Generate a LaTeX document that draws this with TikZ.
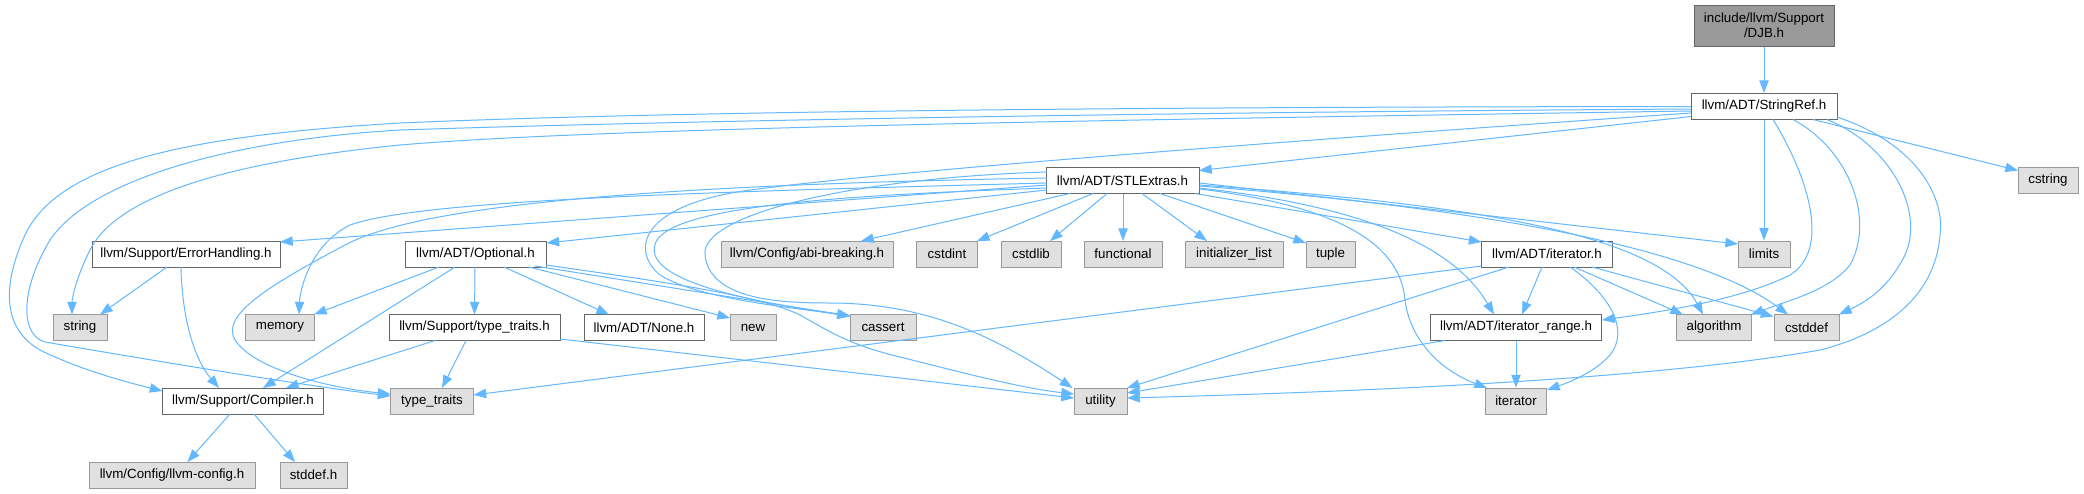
\documentclass[tikz,border=0pt]{standalone}
\usepackage{fontspec}
\setmainfont{Liberation Sans}
\usetikzlibrary{arrows.meta,calc}
\definecolor{edgec}{HTML}{63B8FF}
\definecolor{bordd}{HTML}{666666}
\definecolor{bordl}{HTML}{999999}
\definecolor{fillx}{HTML}{E0E0E0}
\definecolor{fillr}{HTML}{999999}
\newcommand{\gnode}[6]{\node[#1, minimum width=#5*0.75pt] (#2) at (#3,#4) {#6};}
\begin{document}
\begin{tikzpicture}[x=0.75pt,y=-0.75pt,
  base/.style={draw, rectangle, inner sep=0pt, minimum height=19.5pt,
    font=\fontsize{10pt}{11.3pt}\selectfont, line width=0.75pt, anchor=center},
  inbox/.style={base, draw=bordd, fill=white},
  exbox/.style={base, draw=bordl, fill=fillx},
  rootbox/.style={base, draw=bordd, fill=fillr, minimum height=30.75pt, align=center},
  dep/.style={draw=edgec, line width=0.75pt, -{Triangle[length=9.5pt,width=7pt]}},
]
\fill[white] (0,0) rectangle (2084,493);
\useasboundingbox (0,0) rectangle (2084,493);

% row 0-2
\gnode{rootbox}{djb}{1764}{25.5}{140}{include/llvm/Support\\/DJB.h}
\gnode{inbox}{sref}{1764}{106.5}{146}{llvm/ADT/StringRef.h}
\gnode{inbox}{stl}{1122.5}{180.5}{153}{llvm/ADT/STLExtras.h}
\gnode{exbox}{cstring}{2048}{180.5}{60}{cstring}
% row 3
\gnode{inbox}{errh}{186}{254}{188}{llvm/Support/ErrorHandling.h}
\gnode{inbox}{opt}{475.5}{254}{141}{llvm/ADT/Optional.h}
\gnode{exbox}{abi}{807}{254}{172}{llvm/Config/abi-breaking.h}
\gnode{exbox}{cstdint}{947}{254}{61}{cstdint}
\gnode{exbox}{cstdlib}{1031}{254}{60}{cstdlib}
\gnode{exbox}{functional}{1123}{254}{78}{functional}
\gnode{exbox}{initlist}{1234}{254}{98}{initializer\_list}
\gnode{exbox}{tuple}{1330.5}{254}{49}{tuple}
\gnode{inbox}{iterh}{1547}{254}{131}{llvm/ADT/iterator.h}
\gnode{exbox}{limits}{1764}{254}{52}{limits}
% row 4
\gnode{exbox}{string}{80}{327.5}{54}{string}
\gnode{exbox}{memory}{280}{327.5}{69}{memory}
\gnode{inbox}{ttraitsh}{474.5}{327.5}{171}{llvm/Support/type\_traits.h}
\gnode{inbox}{none}{644}{327.5}{120}{llvm/ADT/None.h}
\gnode{exbox}{new}{753}{327.5}{46}{new}
\gnode{exbox}{cassert}{883}{327.5}{66}{cassert}
\gnode{inbox}{iterrange}{1516}{327.5}{171}{llvm/ADT/iterator\_range.h}
\gnode{exbox}{algorithm}{1714}{327.5}{75}{algorithm}
\gnode{exbox}{cstddef}{1806.5}{327.5}{65}{cstddef}
% row 5
\gnode{inbox}{compiler}{243}{401}{161}{llvm/Support/Compiler.h}
\gnode{exbox}{ttraits}{432}{401}{83}{type\_traits}
\gnode{exbox}{utility}{1100.5}{401}{53}{utility}
\gnode{exbox}{iterator}{1516}{401}{61}{iterator}
% row 6
\gnode{exbox}{llvmconfig}{172}{475}{166}{llvm/Config/llvm-config.h}
\gnode{exbox}{stddef}{313.5}{475}{67}{stddef.h}

% DJB
\draw[dep] (djb.south) -- (sref.north);
% StringRef
\draw[dep] ($(sref)+(-73,10)$) -- ($(stl)+(76.5,-10)$);
\draw[dep] ($(sref)+(49,13)$) -- ($(cstring)+(-30,-10)$);
\draw[dep] (sref.south) -- (limits.north);
\draw[dep] ($(sref)+(9,13)$) .. controls (1810,180) and (1830,250) .. (1790,275) .. controls (1740,300) and (1660,312) .. ($(iterrange)+(86,-7.5)$);
\draw[dep] ($(sref)+(29,13)$) .. controls (1850,150) and (1875,220) .. (1850,265) .. controls (1830,290) and (1790,300) .. ($(algorithm)+(37,-13)$);
\draw[dep] ($(sref)+(63,13)$) .. controls (1890,145) and (1925,210) .. (1905,255) .. controls (1890,285) and (1870,300) .. ($(cstddef)+(32.5,-13)$);
\draw[dep] ($(sref)+(73,10.5)$) .. controls (1920,145) and (1945,200) .. (1940,235) .. controls (1935,300) and (1880,335) .. (1820,350) .. controls (1650,380) and (1350,392) .. ($(utility)+(26.5,-3)$);
\draw[dep] ($(sref)+(-73,0)$) .. controls (1200,107) and (700,110) .. (400,123) .. controls (200,135) and (60,160) .. (25,235) .. controls (0,290) and (5,330) .. (40,350) .. controls (80,370) and (130,383) .. ($(compiler)+(-80.5,-10)$);
\draw[dep] ($(sref)+(-73,2.5)$) .. controls (1200,112) and (700,120) .. (400,130) .. controls (230,140) and (90,180) .. (50,240) .. controls (20,290) and (20,335) .. (45,342) .. controls (150,360) and (300,385) .. ($(ttraits)+(-41.5,-5)$);
\draw[dep] ($(sref)+(-73,4.5)$) .. controls (1100,120) and (600,128) .. (400,145) .. controls (250,160) and (120,190) .. (90,250) .. controls (75,280) and (72,300) .. ($(string)+(-8,-13)$);
\draw[dep] ($(sref)+(-73,6.5)$) .. controls (1300,140) and (900,170) .. (750,190) .. controls (640,205) and (630,250) .. (660,275) .. controls (700,300) and (800,308) .. ($(cassert)+(-33,-11)$);
% STLExtras
\draw[dep] ($(stl)+(-75.5,9.5)$) -- ($(opt)+(71,-11)$);
\draw[dep] ($(stl)+(-75.5,4.5)$) -- ($(errh)+(94,-12)$);
\draw[dep] ($(stl)+(-75.5,2.5)$) .. controls (700,192) and (420,200) .. (350,225) .. controls (310,245) and (300,290) .. ($(memory)+(19,-13)$);
\draw[dep] ($(stl)+(-75.5,-2.5)$) .. controls (650,185) and (420,205) .. (345,245) .. controls (270,285) and (220,315) .. (235,340) .. controls (255,370) and (330,388) .. ($(ttraits)+(-41.5,-7)$);
\draw[dep] ($(stl)+(-75.5,7.5)$) .. controls (850,195) and (680,205) .. (657,240) .. controls (640,270) and (700,295) .. ($(cassert)+(-33,-12)$);
\draw[dep] ($(stl)+(-75.5,-8.5)$) .. controls (850,178) and (700,215) .. (705,255) .. controls (710,300) and (780,303) .. (830,303) .. controls (930,303) and (1000,340) .. ($(utility)+(-28,-13)$);
\draw[dep] ($(stl)+(-52.5,13)$) -- ($(abi)+(54,-13)$);
\draw[dep] ($(stl)+(-29.5,13)$) -- ($(cstdint)+(30,-13)$);
\draw[dep] ($(stl)+(-15.5,13)$) -- ($(cstdlib)+(19,-13)$);
\draw[dep] ($(stl)+(0.5,13)$) -- ($(functional)+(0,-13)$);
\draw[dep] ($(stl)+(19.5,13)$) -- ($(initlist)+(-27,-13)$);
\draw[dep] ($(stl)+(37.5,13)$) -- ($(tuple)+(-24.5,-11)$);
\draw[dep] ($(stl)+(72.5,13)$) -- ($(iterh)+(-65.5,-12)$);
\draw[dep] ($(stl)+(77,2.5)$) -- ($(limits)+(-26,-10)$);
\draw[dep] ($(stl)+(77,4.5)$) .. controls (1480,205) and (1660,235) .. ($(algorithm)+(-11,-13)$);
\draw[dep] ($(stl)+(77,5.5)$) .. controls (1500,210) and (1700,250) .. ($(cstddef)+(-18.5,-13)$);
\draw[dep] ($(stl)+(77,7.5)$) .. controls (1350,205) and (1450,240) .. ($(iterrange)+(-22,-13)$);
\draw[dep] ($(stl)+(77,8.5)$) .. controls (1330,205) and (1400,240) .. (1405,300) .. controls (1410,340) and (1440,370) .. ($(iterator)+(-29,-13)$);
% Optional
\draw[dep] ($(opt)+(-36.5,13)$) -- ($(memory)+(34,-13)$);
\draw[dep] ($(opt)+(-20.5,13)$) -- ($(compiler)+(20,-13)$);
\draw[dep] ($(opt)+(-0.5,13)$) -- ($(ttraitsh)+(0,-13)$);
\draw[dep] ($(opt)+(28.5,13)$) -- ($(none)+(-35,-13)$);
\draw[dep] ($(opt)+(53.5,13)$) -- ($(new)+(-23,-9.5)$);
\draw[dep] ($(opt)+(59.5,12)$) -- ($(cassert)+(-33,-11.5)$);
\draw[dep] ($(opt)+(70.5,11)$) .. controls (650,280) and (760,295) .. (800,315) .. controls (830,332) and (850,345) .. (900,357) .. controls (960,372) and (1020,388) .. ($(utility)+(-26.5,-7)$);
% ErrorHandling
\draw[dep] ($(errh)+(-19,13)$) -- ($(string)+(20,-13)$);
\draw[dep] ($(errh)+(-5,13)$) .. controls (182,320) and (195,360) .. ($(compiler)+(-24,-13)$);
% type_traits.h
\draw[dep] ($(ttraitsh)+(-39.5,13)$) -- ($(compiler)+(43,-13)$);
\draw[dep] ($(ttraitsh)+(-8.5,13)$) -- ($(ttraits)+(10,-13)$);
\draw[dep] ($(ttraitsh)+(85.5,11.5)$) -- ($(utility)+(-26.5,-3)$);
% Compiler
\draw[dep] ($(compiler)+(-13,13)$) -- ($(llvmconfig)+(15.5,-13)$);
\draw[dep] ($(compiler)+(11,13)$) -- ($(stddef)+(-18.5,-13)$);
% iterator.h
\draw[dep] ($(iterh)+(-65.5,12)$) -- ($(ttraits)+(41.5,-6)$);
\draw[dep] ($(iterh)+(-38,13)$) -- ($(utility)+(26.5,-13)$);
\draw[dep] ($(iterh)+(-5,13)$) -- ($(iterrange)+(6,-13)$);
\draw[dep] ($(iterh)+(23,13)$) .. controls (1610,295) and (1630,330) .. (1610,355) .. controls (1595,372) and (1570,382) .. ($(iterator)+(31,-11)$);
\draw[dep] ($(iterh)+(27,13)$) -- ($(algorithm)+(-31,-13)$);
\draw[dep] ($(iterh)+(45,13)$) -- ($(cstddef)+(-33,-11)$);
% iterator_range.h
\draw[dep] (iterrange.south) -- (iterator.north);
\draw[dep] ($(iterrange)+(-71,13)$) -- ($(utility)+(26.5,-8)$);
\end{tikzpicture}
\end{document}
